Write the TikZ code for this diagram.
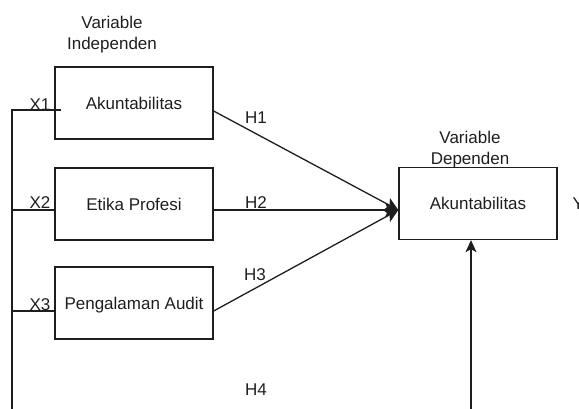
\documentclass[tikz,border=0pt]{standalone}
\usepackage{fontspec}
\setmainfont{Liberation Sans}
\usetikzlibrary{arrows.meta,calc}
\definecolor{ink}{HTML}{1E1E1E}
\begin{document}
\begin{tikzpicture}[x=1bp,y=-1bp, line width=1.3bp, draw=ink, text=ink,
  box/.style={draw=ink, minimum width=158bp, minimum height=72bp, inner sep=0pt,
    text height=12.2bp, text depth=0pt, font=\fontsize{17bp}{20bp}\selectfont},
  lbl/.style={anchor=base, inner sep=0pt, font=\fontsize{17bp}{20bp}\selectfont},
  arr/.style={-{Stealth[length=13bp,width=13bp,inset=3bp]}},
  uparr/.style={-{Stealth[length=12bp,width=11bp,inset=3bp]}}]
\useasboundingbox (0,0) rectangle (579,408);

% headings
\node[lbl] (vi1) at (112,28) {Variable};
\node[lbl] (vi2) at (112,49) {Independen};
\node[lbl] (vd1) at (470,143) {Variable};
\node[lbl] (vd2) at (470,164) {Dependen};

% boxes
\node[box] (b1) at (134,103) {Akuntabilitas};
\node[box] (b2) at (134,204) {Etika Profesi};
\node[box] (b3) at (134,303) {Pengalaman Audit};
\node[box] (rb) at (478,203.5) {Akuntabilitas};

% labels
\node[lbl] (x1) at (40,110) {X1};
\node[lbl] (x2) at (40,208) {X2};
\node[lbl] (x3) at (40,310) {X3};
\node[lbl] (h1) at (256,123) {H1};
\node[lbl] (h2) at (256,208) {H2};
\node[lbl] (h3) at (255,280) {H3};
\node[lbl] (h4) at (256,395) {H4};
\node[lbl, anchor=base west] (y) at (572,209) {Y};

% coordinates
\coordinate (tgt) at ([yshift=-6.5bp]rb.west);
\coordinate (o1) at ([yshift=-8bp]b1.east);
\coordinate (o2) at ([yshift=-6bp]b2.east);
\coordinate (o3) at ([yshift=-8bp]b3.east);
\coordinate (busTop) at (12,110);
\coordinate (busBot) at (12,412);
\coordinate (upStart) at (471,412);

% left bus
\draw ([xshift=7bp]b1.west |- busTop) -- (busTop) -- (busBot);
\draw (b2.west |- 0,210) -- (busTop |- 0,210);
\draw (b3.west |- 0,311) -- (busTop |- 0,311);

% hypotheses arrows
\draw[arr] (o1) -- (tgt);
\draw[arr] (o2) -- (tgt);
\draw[arr] (o3) -- (tgt);
\draw[uparr] (upStart) -- (upStart |- rb.south);
\end{tikzpicture}
\end{document}
